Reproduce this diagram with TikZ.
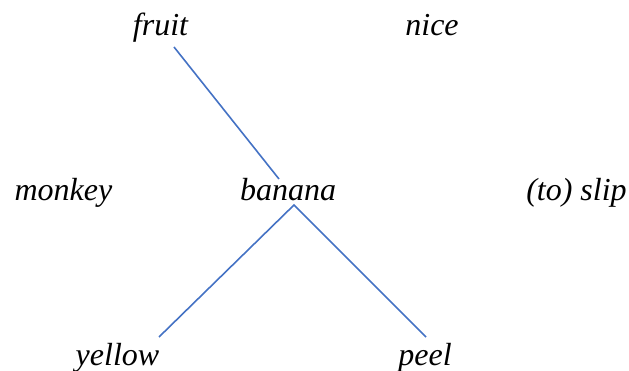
\documentclass[tikz,border=0pt]{standalone}
\usepackage{fontspec}
\setmainfont{Liberation Serif}
\definecolor{linkblue}{HTML}{4472C4}
\begin{document}
\begin{tikzpicture}[x=1pt,y=-1pt,
  word/.style={anchor=base,inner sep=0pt,font=\fontsize{32}{38}\selectfont\itshape},
  link/.style={draw=linkblue,line width=1.6pt}]
\useasboundingbox (0,0) rectangle (629,371);
\node[word] (fruit) at (160.5,36) {fruit};
\node[word] (nice) at (432,36) {nice};
\node[word] (monkey) at (63.5,201) {monkey};
\node[word] (banana) at (288,201) {banana};
\node[word] (slip) at (576.5,201) {(to) slip};
\node[word] (yellow) at (117.5,365) {yellow};
\node[word] (peel) at (425,365) {peel};
\draw[link] ([shift={(13.5,11)}]fruit.base) -- ([shift={(-9,-22)}]banana.base);
\draw[link] ([shift={(41.5,-28)}]yellow.base) -- ([shift={(6,4)}]banana.base) -- ([shift={(1,-28)}]peel.base);
\end{tikzpicture}
\end{document}
